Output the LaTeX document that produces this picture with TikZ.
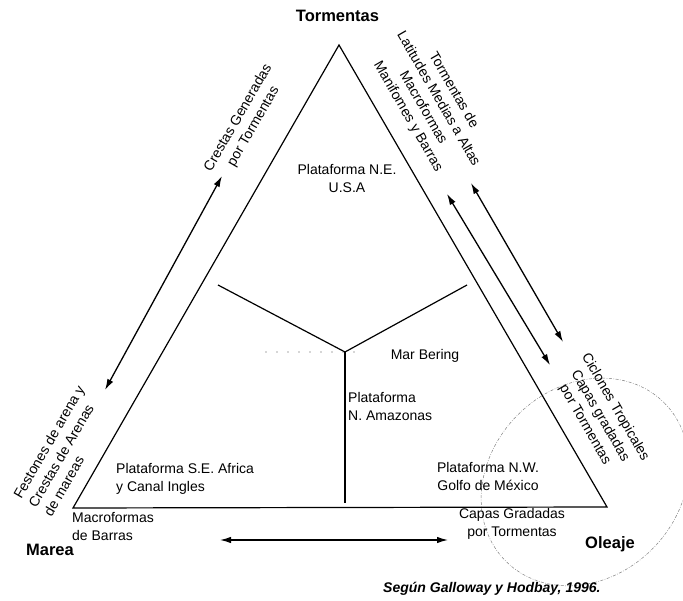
\documentclass[tikz,border=0pt]{standalone}
\usepackage{fontspec}
\setmainfont{Liberation Sans}
\usetikzlibrary{arrows.meta}
\begin{document}
\begin{tikzpicture}[x=1pt,y=-1pt,
  lbl/.style={font=\fontsize{14}{17.5}\selectfont, inner sep=0pt, align=center},
  lbll/.style={font=\fontsize{14}{17.5}\selectfont, inner sep=0pt, align=left},
  pole/.style={font=\fontsize{16.5}{19}\selectfont\bfseries, inner sep=0pt},
  side/.style={line width=1.2pt, line join=miter},
  twoway/.style={line width=1.3pt, {Latex[length=11pt,width=6.5pt]}-{Latex[length=11pt,width=6.5pt]}},
  ring/.style={gray, line width=0.5pt, dash pattern=on 3pt off 1.5pt on 0.7pt off 1.5pt},
]
\useasboundingbox (0,0) rectangle (683,601);

% triangle corners
\coordinate (T) at (339,45);
\coordinate (M) at (73,508);
\coordinate (O) at (607,507);
\draw[side] (T) -- (M) -- (O) -- cycle;

% inner Y division
\coordinate (Yc) at (345,352);
\coordinate (Yl) at (218,285);
\coordinate (Yr) at (467,285);
\coordinate (Yb) at (345,503);
\draw[side] (Yl) -- (Yc) -- (Yr);
\draw[side] (Yc) -- (Yb);
\coordinate (Dl) at (266,352);
\coordinate (Dr) at (358,352);
\draw[black!70, line width=1.3pt, line cap=round, dash pattern=on 0pt off 11pt] (Dl) -- (Dr);

% ellipse around the wave corner
\draw[ring, rotate around={45:(585,482)}] (585,482) ellipse [x radius=112, y radius=95];

% double arrows
\coordinate (A1a) at (222,176);
\coordinate (A1b) at (105,390);
\coordinate (A2a) at (447,194);
\coordinate (A2b) at (550,365);
\coordinate (A3a) at (471,183);
\coordinate (A3b) at (563,342);
\coordinate (A4a) at (220,540);
\coordinate (A4b) at (448,540);
\draw[twoway] (A1a) -- (A1b);
\draw[twoway] (A2a) -- (A2b);
\draw[twoway] (A3a) -- (A3b);
\draw[twoway] (A4a) -- (A4b);

% corner names
\node[pole, anchor=base] (tor) at (337.5,22) {Tormentas};
\node[pole, anchor=base] (mar) at (50,555) {Marea};
\node[pole, anchor=base] (ola) at (610,548) {Oleaje};

% shelves
\node[lbl] (ne) at (347,178.5) {Plataforma N.E.\\U.S.A};
\node[lbl] (ber) at (425,356) {Mar Bering};
\node[lbll, anchor=west] (ama) at (348,406.5) {Plataforma\\N. Amazonas};
\node[lbll, anchor=west] (afr) at (116,479) {Plataforma S.E. Africa\\y Canal Ingles};
\node[lbl] (nw) at (488,476.5) {Plataforma N.W.\\Golfo de México};

% bedforms along the sides
\node[lbll, anchor=west] (mac) at (72,526.5) {Macroformas\\de Barras};
\node[lbl] (cgt) at (512,524) {Capas Gradadas\\por Tormentas};
\node[lbl, rotate=60] (cre) at (246,122.5) {Crestas Generadas\\por Tormentas};
\node[lbl, rotate=-60] (lat) at (430.6,103.5) {Tormentas de\\Latitudes Medias a Altas\\Macroformas\\Manifomes y Barras};
\node[lbl, rotate=-60] (cic) at (600,416) {Ciclones Tropicales\\Capas gradadas\\por Tormentas};
\node[lbll, rotate=60, anchor=west] (fes) at (32,506) {Festones de arena y\\Crestas de Arenas\\de mareas};

% source
\node[font=\fontsize{14}{17}\selectfont\bfseries\itshape, inner sep=0pt, anchor=base west] (src) at (383,592) {Según Galloway y Hodbay, 1996.};
\end{tikzpicture}
\end{document}
